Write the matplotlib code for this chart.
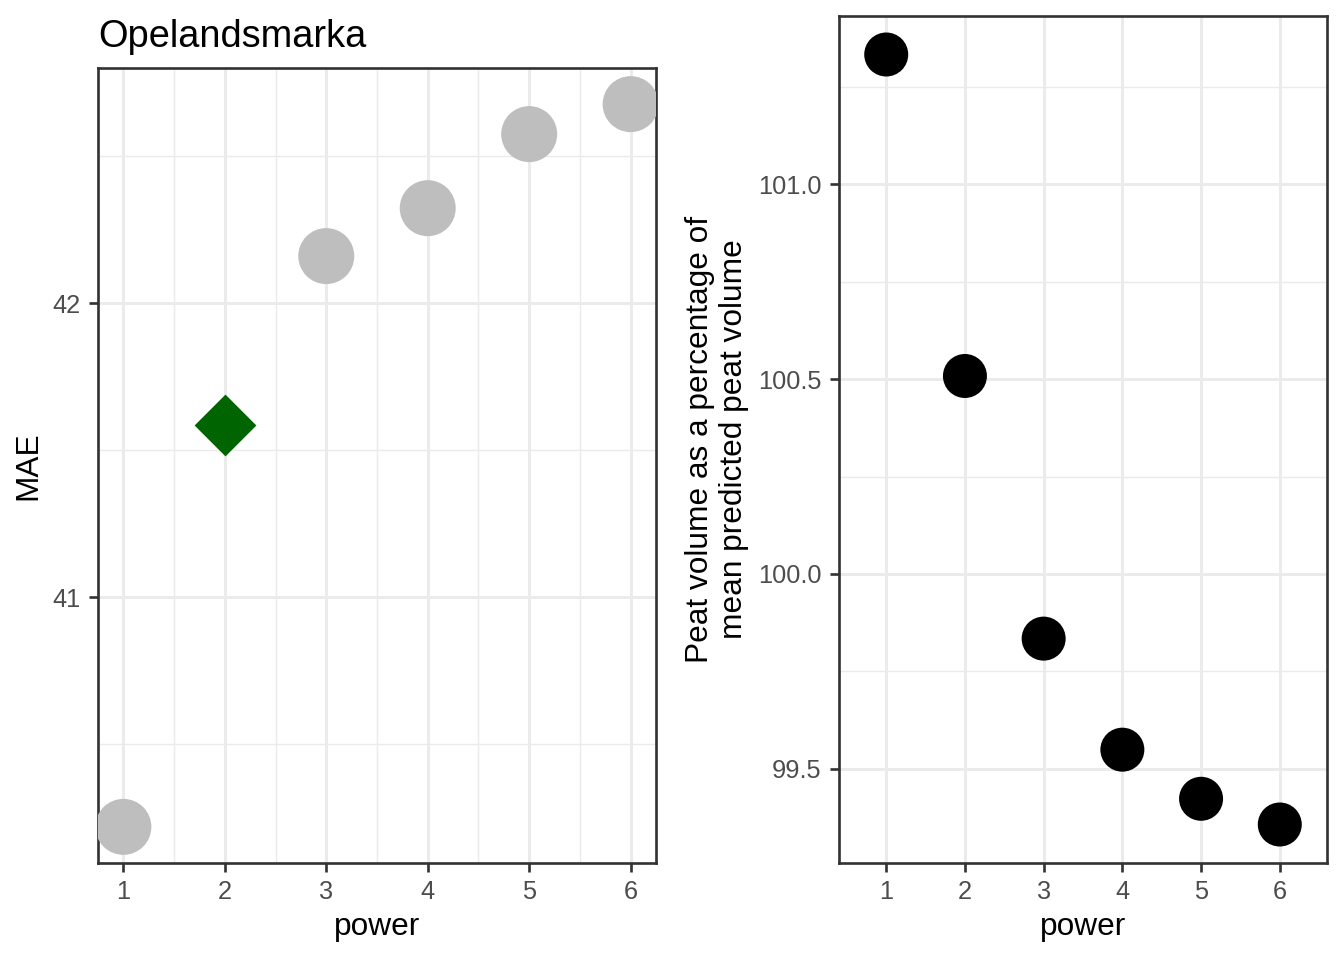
import numpy as np
import matplotlib
matplotlib.use("Agg")
import matplotlib.pyplot as plt
from matplotlib.ticker import MultipleLocator

plt.rcParams["font.family"] = ["Liberation Sans", "DejaVu Sans"]

# data
power = [1, 2, 3, 4, 5, 6]
mae = [40.218, 41.585, 42.160, 42.323, 42.575, 42.677]
best_power = 2
peat_pct = [101.333, 100.508, 99.834, 99.549, 99.423, 99.357]

DPI = 192
GRID = "#EBEBEB"
BORDER = "#333333"
TICKTXT = "#4D4D4D"
SCALE = 1.08


def style(ax):
    ax.set_facecolor("white")
    for s in ax.spines.values():
        s.set_color(BORDER)
        s.set_linewidth(1.0)
    ax.grid(True, which="major", color=GRID, linewidth=1.1)
    ax.grid(True, which="minor", color=GRID, linewidth=0.55)
    ax.set_axisbelow(True)
    ax.tick_params(which="major", length=3.5, width=1.0, color=BORDER,
                   labelcolor=TICKTXT, labelsize=8.8 * SCALE, pad=3)
    ax.tick_params(which="minor", length=0)


def expand(vals, frac=0.05):
    lo, hi = min(vals), max(vals)
    d = (hi - lo) * frac
    return lo - d, hi + d


fig = plt.figure(figsize=(1344 / DPI, 960 / DPI), dpi=DPI)

# left panel: MAE vs power (continuous x)
ax1 = fig.add_axes([98 / 1344, 1 - 863 / 960, (656 - 98) / 1344, (863 - 68) / 960])
style(ax1)
others = [i for i, p in enumerate(power) if p != best_power]
ax1.scatter([power[i] for i in others], [mae[i] for i in others],
            s=21 ** 2, color="#BEBEBE", edgecolors="none", zorder=3)
bi = power.index(best_power)
ax1.plot([power[bi]], [mae[bi]], marker="D", markersize=15.2,
         color="#006400", linestyle="none", zorder=3)
ax1.set_xlim(*expand(power))
ax1.set_ylim(*expand(mae))
ax1.xaxis.set_major_locator(MultipleLocator(1))
ax1.xaxis.set_minor_locator(MultipleLocator(0.5))
ax1.yaxis.set_major_locator(MultipleLocator(1))
ax1.yaxis.set_minor_locator(MultipleLocator(0.5))
ax1.set_xlabel("power", fontsize=11 * SCALE, labelpad=3)
ax1.set_ylabel("MAE", fontsize=11 * SCALE, labelpad=3.5)
ax1.set_title("Opelandsmarka", fontsize=13.2 * SCALE, loc="left", pad=8)

# right panel: peat volume percentage vs power (discrete x)
ax2 = fig.add_axes([839 / 1344, 1 - 863 / 960, (1327 - 839) / 1344, (863 - 16) / 960])
style(ax2)
ax2.scatter(power, peat_pct, s=16.5 ** 2, color="black", edgecolors="none", zorder=3)
ax2.set_xlim(min(power) - 0.6, max(power) + 0.6)
ax2.set_ylim(*expand(peat_pct))
ax2.xaxis.set_major_locator(MultipleLocator(1))
ax2.xaxis.set_minor_locator(matplotlib.ticker.NullLocator())
ax2.yaxis.set_major_locator(MultipleLocator(0.5))
ax2.yaxis.set_minor_locator(MultipleLocator(0.25))
ax2.yaxis.set_major_formatter(matplotlib.ticker.FormatStrFormatter("%.1f"))
ax2.set_xlabel("power", fontsize=11 * SCALE, labelpad=3)
ax2.set_ylabel("Peat volume as a percentage of\nmean predicted peat volume",
               fontsize=11 * SCALE, labelpad=3.5, linespacing=1.15)

fig.savefig("out.png", dpi=DPI)
